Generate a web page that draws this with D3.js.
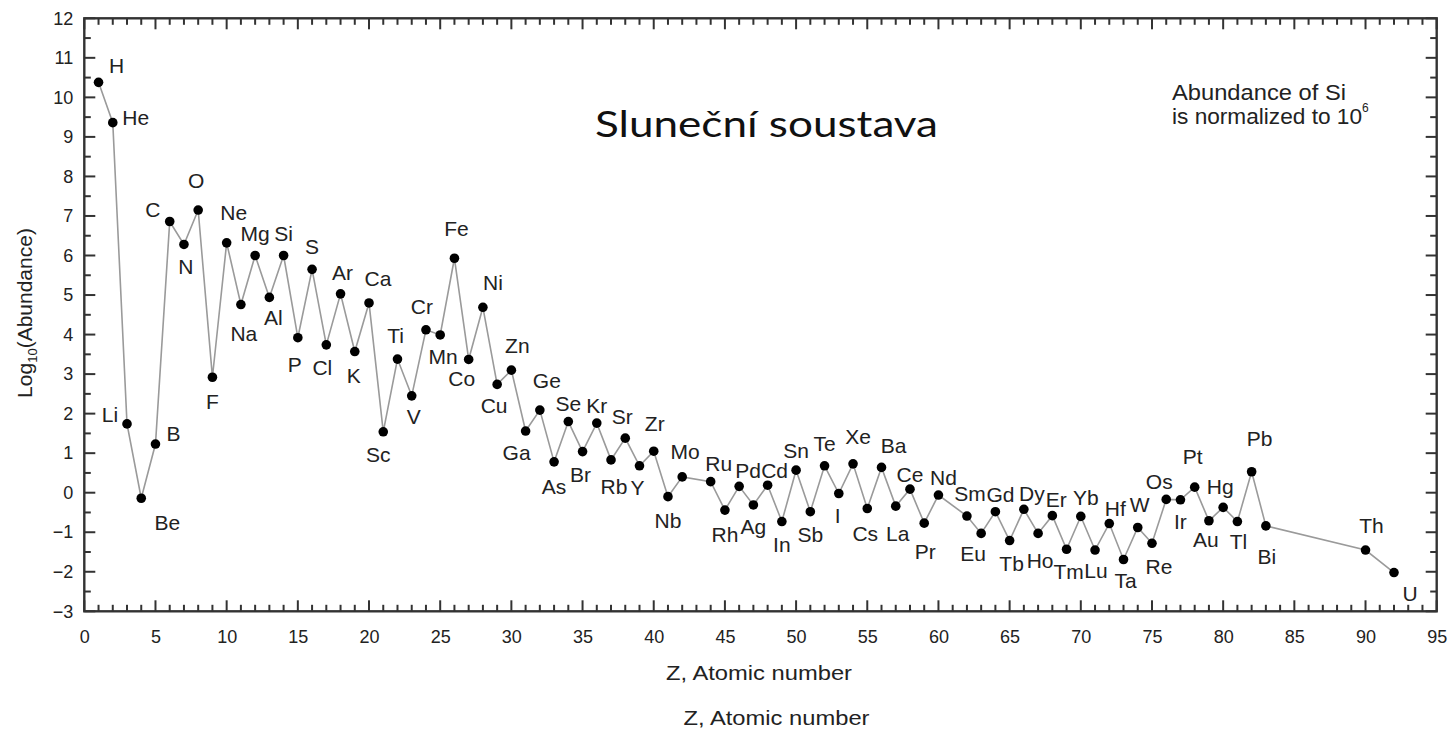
<!DOCTYPE html>
<html>
<head>
<meta charset="utf-8">
<script src="https://cdn.jsdelivr.net/npm/d3@7"></script>
<style>
  html, body { margin: 0; padding: 0; background: #fff; }
  svg { display: block; }
  text { font-family: "Liberation Sans", Arial, Helvetica, sans-serif; fill: #222; }
</style>
</head>
<body>
<svg id="chart" width="1450" height="734"></svg>
<script>
// ---- Data ----
const atomicNumbers = [1,2,3,4,5,6,7,8,9,10,11,12,13,14,15,16,17,18,19,20,
  21,22,23,24,25,26,27,28,29,30,31,32,33,34,35,36,37,38,39,40,41,42,
  44,45,46,47,48,49,50,51,52,53,54,55,56,57,58,59,60,
  62,63,64,65,66,67,68,69,70,71,72,73,74,75,76,77,78,79,80,81,82,83,90,92];
const symbols = ["H","He","Li","Be","B","C","N","O","F","Ne","Na","Mg","Al","Si","P","S","Cl","Ar","K","Ca",
  "Sc","Ti","V","Cr","Mn","Fe","Co","Ni","Cu","Zn","Ga","Ge","As","Se","Br","Kr","Rb","Sr","Y","Zr","Nb","Mo",
  "Ru","Rh","Pd","Ag","Cd","In","Sn","Sb","Te","I","Xe","Cs","Ba","La","Ce","Pr","Nd",
  "Sm","Eu","Gd","Tb","Dy","Ho","Er","Tm","Yb","Lu","Hf","Ta","W","Re","Os","Ir","Pt","Au","Hg","Tl","Pb","Bi","Th","U"];
const logAbundance = [10.38,9.36,1.74,-0.14,1.23,6.86,6.28,7.15,2.92,6.32,4.76,6.00,4.94,6.00,3.92,5.65,3.74,5.03,3.57,4.80,
  1.54,3.38,2.45,4.12,3.99,5.93,3.37,4.69,2.74,3.10,1.56,2.09,0.78,1.80,1.04,1.76,0.83,1.38,0.68,1.05,-0.10,0.40,
  0.28,-0.44,0.16,-0.31,0.19,-0.73,0.57,-0.48,0.68,-0.02,0.73,-0.40,0.64,-0.34,0.09,-0.77,-0.06,
  -0.59,-1.03,-0.48,-1.21,-0.42,-1.03,-0.58,-1.43,-0.60,-1.45,-0.78,-1.69,-0.88,-1.28,-0.17,-0.18,0.14,-0.71,-0.37,-0.73,0.53,-0.84,-1.45,-2.02];

const xTicks = d3.range(0, 96, 5);
const yTicks = d3.range(-3, 13, 1);

// label placement (offset of label centre from its point, in px) – layout only
const labelOffsets = [[18,-17],[23,-5],[-17,-9],[26,24],[18,-11],[-17,-12],[2,22],[-2,-30],[0,24],[7,-30],[3,29],[0,-22],[4,20],[0,-22],[-3,27],[0,-23],[-4,23],[2,-21],[-1,24],[9,-24],
  [-5,23],[-2,-24],[2,21],[-4,-23],[3,22],[2,-30],[-7,19],[10,-25],[-3,21],[6,-25],[-9,21],[7,-30],[0,25],[0,-18],[-2,23],[0,-18],[3,27],[-3,-22],[-2,22],[1,-28],[0,24],[3,-25],
  [8,-18],[0,24],[9,-16],[0,22],[7,-15],[0,23],[0,-20],[0,23],[0,-22],[-1,22],[5,-27],[-2,25],[12,-22],[2,27],[0,-15],[1,28],[5,-18],
  [3,-23],[-8,20],[5,-17],[2,23],[8,-16],[2,27],[4,-16],[2,22],[5,-19],[1,20],[6,-15],[2,21],[2,-23],[7,23],[-7,-18],[0,22],[-2,-31],[-3,19],[-3,-21],[1,20],[8,-33],[1,31],[6,-25],[16,21]];

// ---- Layout ----
const svg = d3.select("#chart");
const plot = { left: 84.3, right: 1436.7, top: 18.3, bottom: 611.3 };
const x = d3.scaleLinear().domain([0, 95]).range([plot.left, plot.right]);
const y = d3.scaleLinear().domain([-3, 12]).range([plot.bottom, plot.top]);
const axisColor = "#333";

const data = atomicNumbers.map((z, i) => ({ z, sym: symbols[i], v: logAbundance[i], off: labelOffsets[i] }));

// frame
svg.append("rect")
  .attr("x", plot.left).attr("y", plot.top)
  .attr("width", plot.right - plot.left).attr("height", plot.bottom - plot.top)
  .attr("fill", "none").attr("stroke", axisColor).attr("stroke-width", 2.4);

// ---- Ticks (inward on all four sides) ----
const xMinor = d3.range(0, 96, 1);
const yMinor = d3.range(-3, 12.01, 0.5);
const majorLen = 11, minorLen = 6.5;
const tg = svg.append("g").attr("stroke", axisColor).attr("stroke-width", 2).attr("fill", "none");
tg.selectAll(".tb").data(xMinor).join("line").attr("class", "tb")
  .attr("x1", d => x(d)).attr("x2", d => x(d))
  .attr("y1", plot.bottom).attr("y2", d => plot.bottom - (d % 5 === 0 ? majorLen : minorLen));
tg.selectAll(".tt").data(xMinor).join("line").attr("class", "tt")
  .attr("x1", d => x(d)).attr("x2", d => x(d))
  .attr("y1", plot.top).attr("y2", d => plot.top + (d % 5 === 0 ? majorLen : minorLen));
tg.selectAll(".tl").data(yMinor).join("line").attr("class", "tl")
  .attr("y1", d => y(d)).attr("y2", d => y(d))
  .attr("x1", plot.left).attr("x2", d => plot.left + (Number.isInteger(d) ? majorLen : minorLen));
tg.selectAll(".tr").data(yMinor).join("line").attr("class", "tr")
  .attr("y1", d => y(d)).attr("y2", d => y(d))
  .attr("x1", plot.right).attr("x2", d => plot.right - (Number.isInteger(d) ? majorLen : minorLen));

// tick labels via d3 axes (no domain / lines)
svg.append("g").attr("transform", `translate(0,${plot.bottom})`)
  .call(d3.axisBottom(x).tickValues(xTicks).tickSize(0).tickPadding(19).tickFormat(d3.format("d")))
  .call(g => g.select(".domain").remove())
  .call(g => g.selectAll("line").remove())
  .call(g => g.selectAll("text").attr("font-size", 18).attr("fill", "#333").style("font-family", "Liberation Sans, Arial, sans-serif"));
svg.append("g").attr("transform", `translate(${plot.left},0)`)
  .call(d3.axisLeft(y).tickValues(yTicks).tickSize(0).tickPadding(11).tickFormat(d3.format("d")))
  .call(g => g.select(".domain").remove())
  .call(g => g.selectAll("line").remove())
  .call(g => g.selectAll("text").attr("font-size", 18).attr("fill", "#333").style("font-family", "Liberation Sans, Arial, sans-serif"));

// line
svg.append("path")
  .datum(data)
  .attr("fill", "none")
  .attr("stroke", "#9a9a9a")
  .attr("stroke-width", 1.6)
  .attr("d", d3.line().x(d => x(d.z)).y(d => y(d.v)));

// points
svg.append("g").selectAll("circle")
  .data(data).join("circle")
  .attr("cx", d => x(d.z)).attr("cy", d => y(d.v))
  .attr("r", 4.8).attr("fill", "#000");

// element labels
svg.append("g").selectAll("text")
  .data(data).join("text")
  .attr("x", d => x(d.z) + d.off[0])
  .attr("y", d => y(d.v) + d.off[1])
  .attr("text-anchor", "middle")
  .attr("dominant-baseline", "central")
  .attr("font-size", 21)
  .text(d => d.sym);

// axis titles
svg.append("text")
  .attr("transform", "translate(32,313) rotate(-90)")
  .attr("text-anchor", "middle")
  .attr("font-size", 21)
  .call(t => {
    t.append("tspan").text("Log");
    t.append("tspan").attr("font-size", 13).attr("dy", 5).text("10");
    t.append("tspan").attr("dy", -5).text("(Abundance)");
  });

svg.append("text")
  .attr("x", 759).attr("y", 680)
  .attr("text-anchor", "middle")
  .attr("font-size", 21)
  .attr("textLength", 186).attr("lengthAdjust", "spacingAndGlyphs")
  .text("Z, Atomic number");
svg.append("text")
  .attr("x", 776.5).attr("y", 725)
  .attr("text-anchor", "middle")
  .attr("font-size", 21)
  .attr("textLength", 186).attr("lengthAdjust", "spacingAndGlyphs")
  .text("Z, Atomic number");

// annotation
svg.append("text")
  .attr("x", 1172).attr("y", 100)
  .attr("font-size", 22)
  .attr("textLength", 174).attr("lengthAdjust", "spacingAndGlyphs")
  .text("Abundance of Si");
svg.append("text")
  .attr("x", 1172).attr("y", 124)
  .attr("font-size", 22)
  .call(t => {
    t.append("tspan").attr("textLength", 190).attr("lengthAdjust", "spacingAndGlyphs").text("is normalized to 10");
    t.append("tspan").attr("font-size", 12).attr("dy", -12).text("6");
  });

// title
svg.append("text")
  .attr("x", 766.5).attr("y", 137)
  .attr("text-anchor", "middle")
  .attr("font-size", 37)
  .style("font-family", "Lato, 'Open Sans', sans-serif")
  .style("fill", "#111")
  .attr("textLength", 343).attr("lengthAdjust", "spacingAndGlyphs")
  .text("Sluneční soustava");
</script>
</body>
</html>
